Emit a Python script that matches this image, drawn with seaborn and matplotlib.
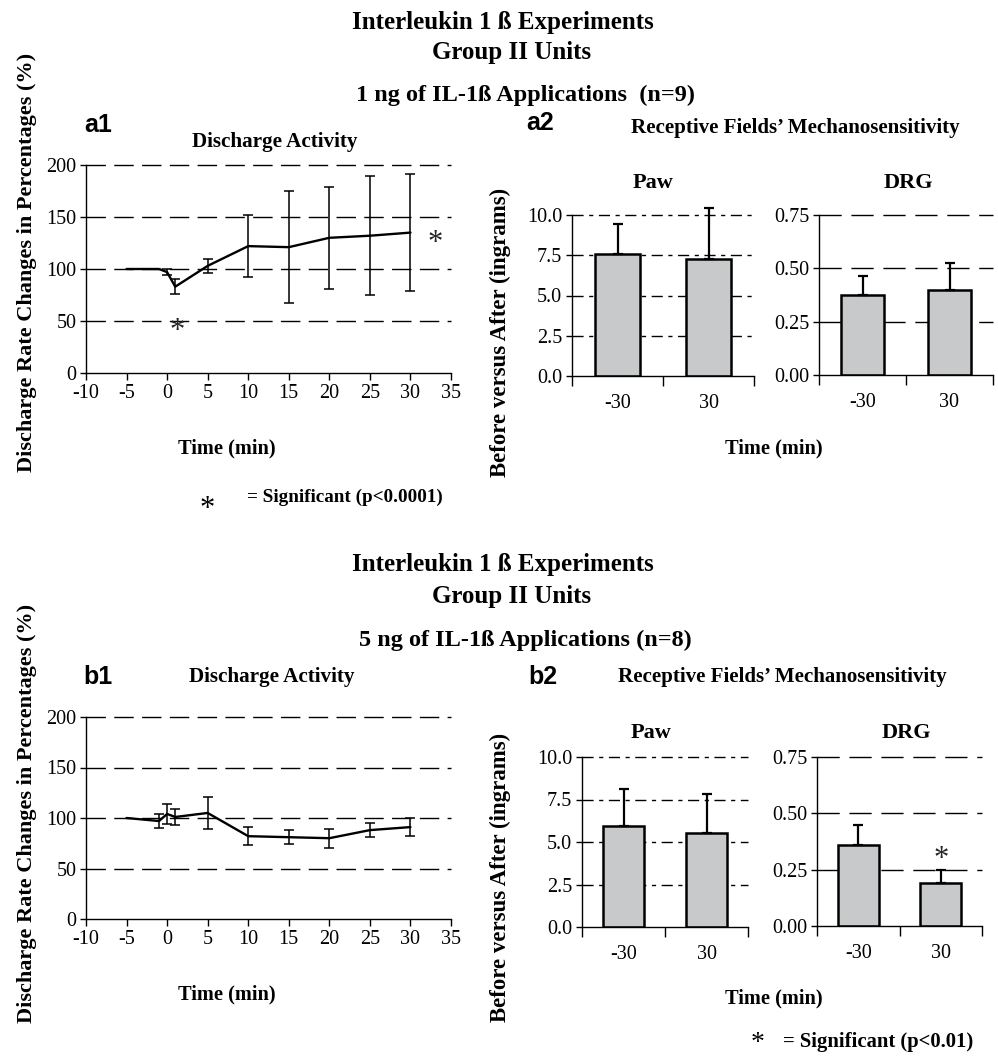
import matplotlib
matplotlib.use('Agg')
import matplotlib.pyplot as plt
import seaborn as sns
import numpy as np

# discharge activity, 1 ng (a1)
a1_time = [-5, -1, 0, 1, 5, 10, 15, 20, 25, 30]
a1_mean = [100, 100, 97, 83, 103, 122, 121, 130, 132, 135]
a1_err = [0, 0, 3, 7.5, 7, 30, 54, 49, 57, 56]

# discharge activity, 5 ng (b1)
b1_time = [-5, -1, 0, 1, 5, 10, 15, 20, 25, 30]
b1_mean = [100, 97, 104, 101, 105, 82, 81, 80, 88, 91]
b1_err = [0, 7, 9.5, 8, 16, 9, 7, 9.5, 7, 9]

# mechanosensitivity bars
bar_cats = ['-30', '30']
a2_paw = [7.55, 7.25]
a2_paw_err = [1.9, 3.2]
a2_drg = [0.373, 0.397]
a2_drg_err = [0.093, 0.128]
b2_paw = [5.94, 5.51]
b2_paw_err = [2.2, 2.3]
b2_drg = [0.359, 0.189]
b2_drg_err = [0.088, 0.059]

sns.set_theme(style='white')
plt.rcParams['font.family'] = ['Liberation Serif', 'DejaVu Serif']
plt.rcParams['axes.unicode_minus'] = False

W, H = 998, 1057
fig = plt.figure(figsize=(W / 100, H / 100), dpi=100)


def ax_at(l, t, r, b):
    return fig.add_axes([l / W, 1 - b / H, (r - l) / W, (b - t) / H])


def txt(x, y, s, size=13.5, bold=True, ha='center', rot=0, fam=None):
    fig.text(x / W, 1 - y / H, s, ha=ha, va='center', fontsize=size,
             fontweight='bold' if bold else 'normal', rotation=rot,
             family=fam if fam else ['Liberation Serif', 'DejaVu Serif'], color='black')


def style_axes(ax):
    for s in ['top', 'right']:
        ax.spines[s].set_visible(False)
    for s in ['left', 'bottom']:
        ax.spines[s].set_color('black')
        ax.spines[s].set_linewidth(1.0)
    ax.tick_params(axis='both', which='both', direction='out', colors='black',
                   labelsize=14.5, left=True, bottom=True)
    ax.tick_params(axis='y', length=4, width=1, pad=3)
    ax.set_xlabel('')
    ax.set_ylabel('')


def draw_line(ax, t, m, e):
    for v in [50, 100, 150, 200]:
        ax.axhline(v, color='black', lw=1.0, dashes=(14, 6), zorder=0.5, clip_on=False)
    sns.lineplot(x=t, y=m, ax=ax, color='black', lw=1.7)
    t = np.array(t); m = np.array(m); e = np.array(e)
    k = e > 0
    ax.errorbar(t[k], m[k], yerr=e[k], fmt='none', ecolor='black', elinewidth=1.1,
                capsize=3.5, capthick=1.1, clip_on=False)
    ax.set_xlim(-10, 35)
    ax.set_ylim(0, 200)
    ax.set_xticks(range(-10, 36, 5))
    ax.set_yticks([0, 50, 100, 150, 200])
    style_axes(ax)
    ax.tick_params(axis='x', length=5, width=1, pad=3)


def draw_bars(ax, vals, errs, ymax, ticks, labels, dash):
    for v in ticks[1:]:
        ax.axhline(v, color='black', lw=1.0, dashes=dash, zorder=0.5, clip_on=False)
    sns.barplot(x=bar_cats, y=vals, ax=ax, width=0.5, color='#c8c9cb', saturation=1,
                edgecolor='black', linewidth=1.8, errorbar=None, zorder=2)
    ax.errorbar([0, 1], vals, yerr=[[0, 0], errs], fmt='none', ecolor='black',
                elinewidth=1.6, capsize=3.5, capthick=1.6, clip_on=False, zorder=3)
    ax.set_xlim(-0.5, 1.5)
    ax.set_ylim(0, ymax)
    ax.set_yticks(ticks)
    ax.set_yticklabels(labels)
    ax.set_xticks([-0.5, 0.5, 1.5], minor=True)
    style_axes(ax)
    ax.tick_params(axis='x', which='major', length=0, pad=13)
    ax.tick_params(axis='x', which='minor', length=7, width=1)


paw_ticks = [0, 2.5, 5, 7.5, 10]
paw_labels = ['0.0', '2.5', '5.0', '7.5', '10.0']
drg_ticks = [0, 0.25, 0.5, 0.75]
drg_labels = ['0.00', '0.25', '0.50', '0.75']
paw_dash = (8, 4, 3, 4)
drg_dash = (16, 7)

# ---- top block (1 ng) ----
ax = ax_at(86, 165, 451, 373)
draw_line(ax, a1_time, a1_mean, a1_err)
ax.text(1.2, 40, '*', fontsize=22, ha='center', va='center')
ax.text(33, 125, '*', fontsize=22, ha='center', va='center', clip_on=False)

ax = ax_at(572, 215, 754, 376)
draw_bars(ax, a2_paw, a2_paw_err, 10, paw_ticks, paw_labels, paw_dash)
ax = ax_at(819, 215, 993, 375)
draw_bars(ax, a2_drg, a2_drg_err, 0.75, drg_ticks, drg_labels, drg_dash)

txt(503, 22, 'Interleukin 1 ß Experiments', size=18)
txt(512, 53, 'Group II Units', size=18)
txt(525, 95, '1 ng of IL-1ß Applications  (n=9)', size=17.5)
txt(98, 125, 'a1', size=18, fam=['Liberation Sans', 'DejaVu Sans'])
txt(275, 142, 'Discharge Activity', size=15.2)
txt(540, 123, 'a2', size=18, fam=['Liberation Sans', 'DejaVu Sans'])
txt(795, 128, 'Receptive Fields\u2019 Mechanosensitivity', size=15.1)
txt(653, 183, 'Paw', size=16)
txt(908, 183, 'DRG', size=16)
txt(227, 448, 'Time (min)', size=14.7)
txt(774, 448, 'Time (min)', size=14.7)
txt(27, 262, 'Discharge Rate Changes in Percentages (%)', size=16, rot=90)
txt(500, 332, 'Before versus After (ingrams)', size=16.5, rot=90)
txt(207, 509, '*', size=22, bold=False)
txt(247, 497, '= Significant (p<0.0001)', size=13.8, ha='left')

# ---- bottom block (5 ng) ----
ax = ax_at(86, 717, 451, 919)
draw_line(ax, b1_time, b1_mean, b1_err)

ax = ax_at(582, 757, 748, 927)
draw_bars(ax, b2_paw, b2_paw_err, 10, paw_ticks, paw_labels, paw_dash)
ax = ax_at(817, 757, 982, 926)
draw_bars(ax, b2_drg, b2_drg_err, 0.75, drg_ticks, drg_labels, drg_dash)
ax.text(1, 0.295, '*', fontsize=22, ha='center', va='center')

txt(503, 565, 'Interleukin 1 ß Experiments', size=18)
txt(512, 597, 'Group II Units', size=18)
txt(525, 640, '5 ng of IL-1ß Applications (n=8)', size=17.5)
txt(98, 677, 'b1', size=18, fam=['Liberation Sans', 'DejaVu Sans'])
txt(272, 677, 'Discharge Activity', size=15.2)
txt(543, 677, 'b2', size=18, fam=['Liberation Sans', 'DejaVu Sans'])
txt(782, 677, 'Receptive Fields\u2019 Mechanosensitivity', size=15.1)
txt(651, 733, 'Paw', size=16)
txt(906, 733, 'DRG', size=16)
txt(227, 994, 'Time (min)', size=14.7)
txt(774, 998, 'Time (min)', size=14.7)
txt(27, 813, 'Discharge Rate Changes in Percentages (%)', size=16, rot=90)
txt(500, 877, 'Before versus After (ingrams)', size=16.5, rot=90)
txt(758, 1043, '*', size=20, bold=False)
txt(783, 1042, '= Significant (p<0.01)', size=14.9, ha='left')

fig.savefig('out.png', dpi=100)
